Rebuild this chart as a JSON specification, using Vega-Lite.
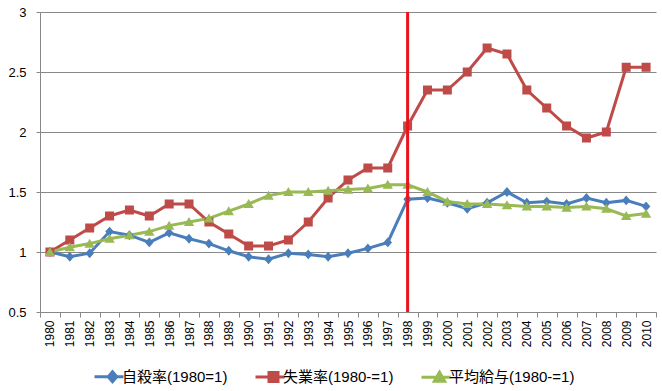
{
  "$schema": "https://vega.github.io/schema/vega-lite/v6.json",
  "width": 616,
  "height": 300,
  "autosize": {"type": "none"},
  "padding": {"left": 40, "top": 12, "right": 6, "bottom": 79},
  "background": "white",
  "config": {
    "font": "Liberation Sans, Noto Sans CJK JP",
    "view": {"stroke": null},
    "legend": {
      "labelFontSize": 15,
      "labelColor": "#000000",
      "labelFont": "Liberation Sans, Noto Sans CJK JP",
      "symbolSize": 81,
      "labelOffset": 2,
      "columnPadding": 21,
      "symbolStrokeWidth": 3
    }
  },
  "layer": [
    {
      "data": {
        "values": [
          {"year": 1980, "series": "自殺率(1980=1)", "value": 1.0},
          {"year": 1981, "series": "自殺率(1980=1)", "value": 0.96},
          {"year": 1982, "series": "自殺率(1980=1)", "value": 0.99},
          {"year": 1983, "series": "自殺率(1980=1)", "value": 1.17},
          {"year": 1984, "series": "自殺率(1980=1)", "value": 1.14},
          {"year": 1985, "series": "自殺率(1980=1)", "value": 1.08},
          {"year": 1986, "series": "自殺率(1980=1)", "value": 1.16},
          {"year": 1987, "series": "自殺率(1980=1)", "value": 1.11},
          {"year": 1988, "series": "自殺率(1980=1)", "value": 1.07},
          {"year": 1989, "series": "自殺率(1980=1)", "value": 1.01},
          {"year": 1990, "series": "自殺率(1980=1)", "value": 0.96},
          {"year": 1991, "series": "自殺率(1980=1)", "value": 0.94},
          {"year": 1992, "series": "自殺率(1980=1)", "value": 0.99},
          {"year": 1993, "series": "自殺率(1980=1)", "value": 0.98},
          {"year": 1994, "series": "自殺率(1980=1)", "value": 0.96},
          {"year": 1995, "series": "自殺率(1980=1)", "value": 0.99},
          {"year": 1996, "series": "自殺率(1980=1)", "value": 1.03},
          {"year": 1997, "series": "自殺率(1980=1)", "value": 1.08},
          {"year": 1998, "series": "自殺率(1980=1)", "value": 1.44},
          {"year": 1999, "series": "自殺率(1980=1)", "value": 1.45},
          {"year": 2000, "series": "自殺率(1980=1)", "value": 1.41},
          {"year": 2001, "series": "自殺率(1980=1)", "value": 1.36},
          {"year": 2002, "series": "自殺率(1980=1)", "value": 1.41},
          {"year": 2003, "series": "自殺率(1980=1)", "value": 1.5},
          {"year": 2004, "series": "自殺率(1980=1)", "value": 1.41},
          {"year": 2005, "series": "自殺率(1980=1)", "value": 1.42},
          {"year": 2006, "series": "自殺率(1980=1)", "value": 1.4},
          {"year": 2007, "series": "自殺率(1980=1)", "value": 1.45},
          {"year": 2008, "series": "自殺率(1980=1)", "value": 1.41},
          {"year": 2009, "series": "自殺率(1980=1)", "value": 1.43},
          {"year": 2010, "series": "自殺率(1980=1)", "value": 1.38},
          {"year": 1980, "series": "失業率(1980-=1)", "value": 1.0},
          {"year": 1981, "series": "失業率(1980-=1)", "value": 1.1},
          {"year": 1982, "series": "失業率(1980-=1)", "value": 1.2},
          {"year": 1983, "series": "失業率(1980-=1)", "value": 1.3},
          {"year": 1984, "series": "失業率(1980-=1)", "value": 1.35},
          {"year": 1985, "series": "失業率(1980-=1)", "value": 1.3},
          {"year": 1986, "series": "失業率(1980-=1)", "value": 1.4},
          {"year": 1987, "series": "失業率(1980-=1)", "value": 1.4},
          {"year": 1988, "series": "失業率(1980-=1)", "value": 1.25},
          {"year": 1989, "series": "失業率(1980-=1)", "value": 1.15},
          {"year": 1990, "series": "失業率(1980-=1)", "value": 1.05},
          {"year": 1991, "series": "失業率(1980-=1)", "value": 1.05},
          {"year": 1992, "series": "失業率(1980-=1)", "value": 1.1},
          {"year": 1993, "series": "失業率(1980-=1)", "value": 1.25},
          {"year": 1994, "series": "失業率(1980-=1)", "value": 1.45},
          {"year": 1995, "series": "失業率(1980-=1)", "value": 1.6},
          {"year": 1996, "series": "失業率(1980-=1)", "value": 1.7},
          {"year": 1997, "series": "失業率(1980-=1)", "value": 1.7},
          {"year": 1998, "series": "失業率(1980-=1)", "value": 2.05},
          {"year": 1999, "series": "失業率(1980-=1)", "value": 2.35},
          {"year": 2000, "series": "失業率(1980-=1)", "value": 2.35},
          {"year": 2001, "series": "失業率(1980-=1)", "value": 2.5},
          {"year": 2002, "series": "失業率(1980-=1)", "value": 2.7},
          {"year": 2003, "series": "失業率(1980-=1)", "value": 2.65},
          {"year": 2004, "series": "失業率(1980-=1)", "value": 2.35},
          {"year": 2005, "series": "失業率(1980-=1)", "value": 2.2},
          {"year": 2006, "series": "失業率(1980-=1)", "value": 2.05},
          {"year": 2007, "series": "失業率(1980-=1)", "value": 1.95},
          {"year": 2008, "series": "失業率(1980-=1)", "value": 2.0},
          {"year": 2009, "series": "失業率(1980-=1)", "value": 2.54},
          {"year": 2010, "series": "失業率(1980-=1)", "value": 2.54},
          {"year": 1980, "series": "平均給与(1980-=1)", "value": 1.0},
          {"year": 1981, "series": "平均給与(1980-=1)", "value": 1.04},
          {"year": 1982, "series": "平均給与(1980-=1)", "value": 1.07},
          {"year": 1983, "series": "平均給与(1980-=1)", "value": 1.11},
          {"year": 1984, "series": "平均給与(1980-=1)", "value": 1.14},
          {"year": 1985, "series": "平均給与(1980-=1)", "value": 1.17},
          {"year": 1986, "series": "平均給与(1980-=1)", "value": 1.22},
          {"year": 1987, "series": "平均給与(1980-=1)", "value": 1.25},
          {"year": 1988, "series": "平均給与(1980-=1)", "value": 1.28},
          {"year": 1989, "series": "平均給与(1980-=1)", "value": 1.34},
          {"year": 1990, "series": "平均給与(1980-=1)", "value": 1.4},
          {"year": 1991, "series": "平均給与(1980-=1)", "value": 1.47},
          {"year": 1992, "series": "平均給与(1980-=1)", "value": 1.5},
          {"year": 1993, "series": "平均給与(1980-=1)", "value": 1.5},
          {"year": 1994, "series": "平均給与(1980-=1)", "value": 1.51},
          {"year": 1995, "series": "平均給与(1980-=1)", "value": 1.52},
          {"year": 1996, "series": "平均給与(1980-=1)", "value": 1.53},
          {"year": 1997, "series": "平均給与(1980-=1)", "value": 1.56},
          {"year": 1998, "series": "平均給与(1980-=1)", "value": 1.56},
          {"year": 1999, "series": "平均給与(1980-=1)", "value": 1.5},
          {"year": 2000, "series": "平均給与(1980-=1)", "value": 1.42},
          {"year": 2001, "series": "平均給与(1980-=1)", "value": 1.4},
          {"year": 2002, "series": "平均給与(1980-=1)", "value": 1.4},
          {"year": 2003, "series": "平均給与(1980-=1)", "value": 1.39},
          {"year": 2004, "series": "平均給与(1980-=1)", "value": 1.38},
          {"year": 2005, "series": "平均給与(1980-=1)", "value": 1.38},
          {"year": 2006, "series": "平均給与(1980-=1)", "value": 1.37},
          {"year": 2007, "series": "平均給与(1980-=1)", "value": 1.38},
          {"year": 2008, "series": "平均給与(1980-=1)", "value": 1.36},
          {"year": 2009, "series": "平均給与(1980-=1)", "value": 1.3},
          {"year": 2010, "series": "平均給与(1980-=1)", "value": 1.32}
        ]
      },
      "encoding": {
        "x": {
          "field": "year",
          "type": "ordinal",
          "bandPosition": 0.5,
          "scale": {"type": "band", "paddingInner": 0, "paddingOuter": 0},
          "axis": {
            "title": null,
            "labelAngle": 270,
            "labelFontSize": 12,
            "labelColor": "#000000",
            "tickBand": "extent",
            "tickSize": 5,
            "tickColor": "#888888",
            "domainColor": "#888888",
            "labelPadding": 3,
            "grid": false
          }
        },
        "y": {
          "field": "value",
          "type": "quantitative",
          "scale": {"domain": [0.5, 3], "nice": false, "zero": false},
          "axis": {
            "title": null,
            "values": [0.5, 1, 1.5, 2, 2.5, 3],
            "format": "~g",
            "labelFontSize": 13,
            "labelColor": "#000000",
            "tickSize": 4,
            "tickColor": "#888888",
            "domainColor": "#888888",
            "gridColor": "#888888",
            "gridOpacity": 1,
            "labelPadding": 10
          }
        }
      },
      "layer": [
        {
          "mark": {"type": "line", "strokeWidth": 3},
          "encoding": {
            "color": {
              "field": "series",
              "type": "nominal",
              "scale": {
                "domain": ["自殺率(1980=1)", "失業率(1980-=1)", "平均給与(1980-=1)"],
                "range": ["#4a7ebb", "#be4b48", "#98b954"]
              },
              "legend": {"orient": "none", "legendX": 65, "legendY": 357, "direction": "horizontal", "title": null}
            }
          }
        },
        {
          "mark": {"type": "point", "filled": true, "size": 81, "opacity": 1, "strokeWidth": 0},
          "encoding": {
            "color": {
              "field": "series",
              "type": "nominal",
              "legend": {
                "orient": "none", "legendX": 65, "legendY": 357, "direction": "horizontal", "title": null,
                "encode": {"symbols": {"update": {"stroke": {"scale": "color", "field": "value"}, "strokeWidth": {"value": 3}, "opacity": {"value": 1}}}}
              }
            },
            "shape": {
              "field": "series",
              "type": "nominal",
              "scale": {
                "domain": ["自殺率(1980=1)", "失業率(1980-=1)", "平均給与(1980-=1)"],
                "range": [
                  "M-4,0H2.45M0,-1.1L0.95,0L0,1.1L-0.95,0Z",
                  "M-4,0H2.45M-1,-1H1V1H-1Z",
                  "M-4,0H2.45M0,-1.1L1.15,0.9L-1.15,0.9Z"
                ]
              },
              "legend": {
                "orient": "none", "legendX": 65, "legendY": 357, "direction": "horizontal", "title": null,
                "encode": {"symbols": {"update": {"stroke": {"scale": "color", "field": "value"}, "strokeWidth": {"value": 3}, "opacity": {"value": 1}}}}
              }
            }
          }
        }
      ]
    },
    {
      "data": {"values": [{"year": 1998, "top": 3, "bottom": 0.5}]},
      "mark": {"type": "rule", "color": "#e8141b", "strokeWidth": 3},
      "encoding": {
        "x": {"field": "year", "type": "ordinal", "bandPosition": 0.5},
        "y": {"field": "top", "type": "quantitative"},
        "y2": {"field": "bottom"}
      }
    }
  ]
}
